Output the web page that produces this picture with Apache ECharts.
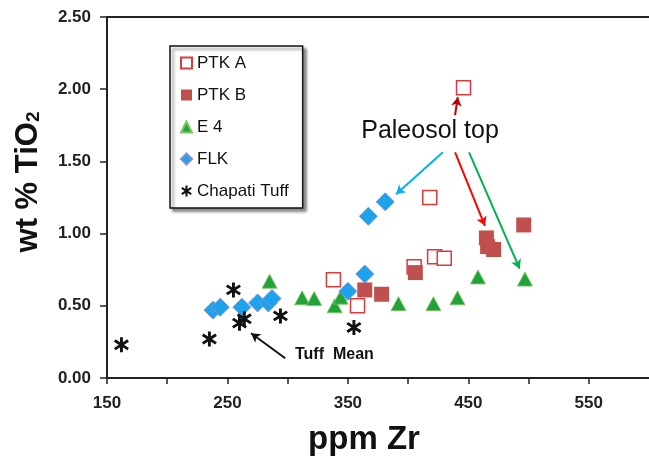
<!DOCTYPE html>
<html>
<head>
<meta charset="utf-8">
<script src="https://cdn.jsdelivr.net/npm/echarts@6/dist/echarts.min.js"></script>
<style>
  html, body { margin: 0; padding: 0; background: #fff; }
  #chart { width: 649px; height: 461px; }
</style>
</head>
<body>
<div id="chart"></div>
<script>
// [ppm Zr, wt % TiO2]
const ptkA = [[338, 0.68], [358, 0.50], [405, 0.77], [418, 1.25], [422, 0.84], [430, 0.83], [446, 2.01]]
const ptkB = [[364, 0.61], [378, 0.58], [406, 0.73], [465, 0.97], [466, 0.91], [471, 0.89], [496, 1.06]]
const e4 = [[285, 0.67], [312, 0.555], [322, 0.55], [339, 0.50], [344, 0.56], [392, 0.515], [421, 0.515], [441, 0.555], [458, 0.70], [497, 0.685]]
const flk = [[238, 0.47], [244, 0.49], [262, 0.49], [275, 0.52], [284, 0.52], [287, 0.55], [350, 0.60], [364, 0.72], [367, 1.12], [381, 1.22]]
const chapati = [[162, 0.23], [235, 0.27], [255, 0.61], [260, 0.38], [264, 0.41], [294, 0.43], [355, 0.35]]

const xTickLabels = [150, 250, 350, 450, 550]
const seriesNames = ['PTK A', 'PTK B', 'E 4', 'FLK', 'Chapati Tuff']

// annotation arrows, from -> to, in data units
const arrows = [
  { from: [439, 1.82], to: [441.2, 1.945], color: '#c00000' },
  { from: [428.8, 1.563], to: [390, 1.272], color: '#00b0f0' },
  { from: [439, 1.563], to: [463.8, 1.054], color: '#ff0000' },
  { from: [450.6, 1.563], to: [492.6, 0.757], color: '#00b050' },
  { from: [298, 0.137], to: [269.6, 0.31], color: '#111' }
]

const asterisk = 'path://M5.7 0H8.3V14H5.7Z M1.72 1.92L13.72 9.92L12.28 12.08L0.28 4.08Z M0.28 9.92L12.28 1.92L13.72 4.08L1.72 12.08Z'

const chart = echarts.init(document.getElementById('chart'))

const axisText = { fontFamily: 'Liberation Sans, Arial, sans-serif', fontWeight: 'bold', fontSize: 17, color: '#222' }

const option = {
  animation: false,
  grid: { left: 107, top: 17, width: 543, height: 363 },
  legend: {
    data: seriesNames,
    orient: 'vertical',
    left: 170,
    top: 46,
    padding: [7, 14, 7, 10],
    itemGap: 12,
    itemWidth: 11,
    itemHeight: 11,
    borderColor: '#111',
    borderWidth: 1.5,
    backgroundColor: '#fff',
    shadowColor: 'rgba(0,0,0,0.45)',
    shadowBlur: 3,
    shadowOffsetX: 3,
    shadowOffsetY: 3,
    textStyle: { fontFamily: 'Liberation Sans, Arial, sans-serif', fontSize: 17, lineHeight: 20, color: '#111' }
  },
  xAxis: [
    {
      type: 'value',
      min: 150,
      max: 600,
      interval: 50,
      axisLine: { lineStyle: { color: '#222', width: 2 } },
      axisTick: { inside: false, length: 6, lineStyle: { color: '#222', width: 1.5 } },
      axisLabel: {
        ...axisText,
        margin: 17,
        showMaxLabel: false,
        formatter: (v) => (xTickLabels.includes(v) ? String(v) : '')
      },
      splitLine: { show: false },
      name: 'ppm Zr',
      nameLocation: 'middle',
      nameGap: 45,
      nameTextStyle: { fontFamily: 'Liberation Sans, Arial, sans-serif', fontWeight: 'bold', fontSize: 33, color: '#111', padding: [0, 28, 0, 0] }
    },
    {
      type: 'value',
      position: 'top',
      min: 150,
      max: 600,
      axisLine: { show: true, lineStyle: { color: '#222', width: 2 } },
      axisTick: { show: false },
      axisLabel: { show: false },
      splitLine: { show: false }
    }
  ],
  yAxis: {
    type: 'value',
    min: 0,
    max: 2.5,
    interval: 0.5,
    axisLine: { show: true, lineStyle: { color: '#222', width: 2 } },
    axisTick: { show: true, inside: false, length: 7, lineStyle: { color: '#222', width: 1.5 } },
    axisLabel: { ...axisText, margin: 16, formatter: (v) => v.toFixed(2) },
    splitLine: { show: false }
  },
  graphic: [
    {
      type: 'text',
      x: 28,
      y: 182,
      rotation: Math.PI / 2,
      style: {
        text: 'wt % TiO{sub|2}',
        fontFamily: 'Liberation Sans, Arial, sans-serif',
        fontWeight: 'bold',
        fontSize: 31,
        fill: '#111',
        align: 'center',
        verticalAlign: 'middle',
        rich: {
          sub: { fontFamily: 'Liberation Sans, Arial, sans-serif', fontWeight: 'bold', fontSize: 19, fill: '#111', verticalAlign: 'bottom', padding: [12, 0, 0, 0] }
        }
      }
    },
    {
      type: 'text',
      x: 430,
      y: 131,
      style: { text: 'Paleosol top', fontFamily: 'Liberation Sans, Arial, sans-serif', fontSize: 25, fill: '#111', align: 'center', verticalAlign: 'middle' }
    },
    {
      type: 'text',
      x: 295,
      y: 355,
      style: { text: 'Tuff  Mean', fontFamily: 'Liberation Sans, Arial, sans-serif', fontWeight: 'bold', fontSize: 16, fill: '#111', align: 'left', verticalAlign: 'middle' }
    }
  ],
  series: [
    {
      name: 'PTK A',
      type: 'scatter',
      data: ptkA,
      symbol: 'rect',
      symbolSize: 14,
      itemStyle: { color: '#fff', borderColor: '#d83b3b', borderWidth: 1.5, opacity: 1 }
    },
    {
      name: 'PTK B',
      type: 'scatter',
      data: ptkB,
      symbol: 'rect',
      symbolSize: 15,
      itemStyle: { color: '#c0504d', opacity: 1 }
    },
    {
      name: 'E 4',
      type: 'scatter',
      data: e4,
      symbol: 'triangle',
      symbolSize: [15, 14],
      itemStyle: { color: '#22a33a', borderColor: '#7cc460', borderWidth: 0.8, opacity: 1 }
    },
    {
      name: 'FLK',
      type: 'scatter',
      data: flk,
      symbol: 'diamond',
      symbolSize: [18, 18],
      itemStyle: { color: '#1da3ec', borderColor: '#7f8fd8', borderWidth: 1, opacity: 1 }
    },
    {
      name: 'Chapati Tuff',
      type: 'scatter',
      data: chapati,
      symbol: asterisk,
      symbolSize: [15, 15],
      itemStyle: { color: '#111', opacity: 1 },
      markLine: {
        silent: true,
        symbol: ['none', 'arrow'],
        symbolSize: [8, 9],
        label: { show: false },
        data: arrows.map((a) => [
          { coord: a.from, lineStyle: { color: a.color, width: 2, type: 'solid' }, itemStyle: { color: a.color } },
          { coord: a.to }
        ])
      }
    }
  ]
}

chart.setOption(option)
</script>
</body>
</html>
